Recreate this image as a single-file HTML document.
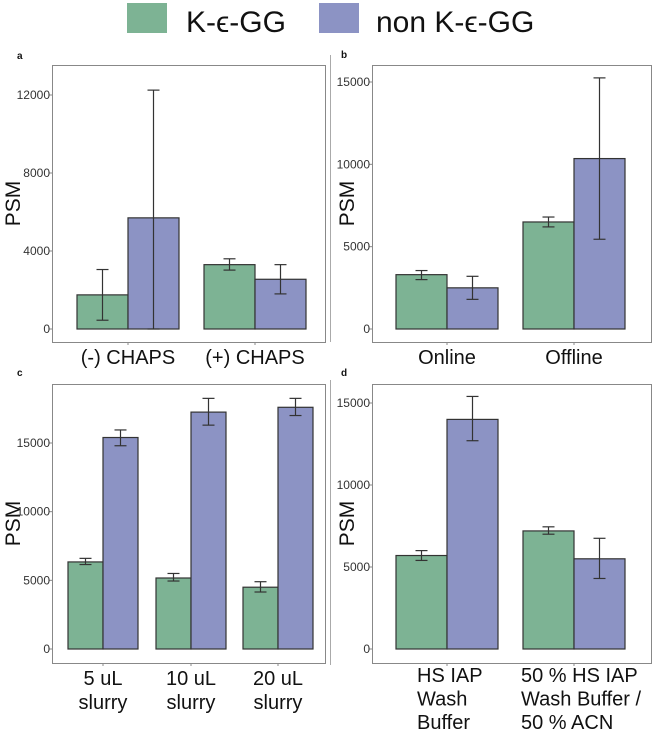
<!DOCTYPE html>
<html><head><meta charset="utf-8"><style>
body{margin:0;background:#fff;font-family:"Liberation Sans",sans-serif;}
svg{display:block}
</style></head><body>
<svg id="c" width="657" height="739">
<g>
<rect x="127" y="3" width="40" height="30" fill="#7db394"/>
<text x="186" y="32" font-size="30" fill="#111">K-ϵ-GG</text>
<rect x="319" y="3" width="40" height="30" fill="#8c93c4"/>
<text x="376" y="32" font-size="30" fill="#111">non K-ϵ-GG</text>
</g>
<line x1="330.5" y1="55" x2="330.5" y2="342" stroke="#aaa"/>
<line x1="330.5" y1="380" x2="330.5" y2="665" stroke="#aaa"/>
</svg>
<script>
const catsA=[["(-) CHAPS"],["(+) CHAPS"]];
const greenA=[1750,3300], greenLoA=[450,3020], greenHiA=[3050,3600];
const blueA=[5700,2550], blueLoA=[0,1800], blueHiA=[12250,3300];
const ticksA=[0,4000,8000,12000];

const catsB=[["Online"],["Offline"]];
const greenB=[3300,6500], greenLoB=[3000,6200], greenHiB=[3550,6800];
const blueB=[2500,10350], blueLoB=[1800,5450], blueHiB=[3200,15250];
const ticksB=[0,5000,10000,15000];

const catsC=[["5 uL","slurry"],["10 uL","slurry"],["20 uL","slurry"]];
const greenC=[6340,5170,4500], greenLoC=[6150,4950,4150], greenHiC=[6600,5500,4900];
const blueC=[15400,17250,17600], blueLoC=[14800,16300,17000], blueHiC=[15950,18250,18250];
const ticksC=[0,5000,10000,15000];

const catsD=[["HS IAP","Wash","Buffer"],["50 % HS IAP","Wash Buffer /","50 % ACN"]];
const greenD=[5700,7200], greenLoD=[5400,7000], greenHiD=[6000,7450];
const blueD=[14000,5500], blueLoD=[12700,4300], blueHiD=[15400,6750];
const ticksD=[0,5000,10000,15000];

const svg=document.getElementById('c');
const NS='http://www.w3.org/2000/svg';
function mk(tag,attrs,parent){const e=document.createElementNS(NS,tag);for(const k in attrs)e.setAttribute(k,attrs[k]);(parent||svg).appendChild(e);return e;}

function panel(p){
  const g=mk('g',{});
  
  
  const y=v=>p.y0-(v-0)*p.scale;
  const fr=mk('rect',{x:p.fx0+0.5,y:p.fy0+0.5,width:p.fx1-p.fx0,height:p.fy1-p.fy0,fill:'none',stroke:'#888'},g);
  
  
  const lt=mk('text',{x:p.lx,y:p.ly,'font-size':10,'font-weight':'bold',fill:'#111'},g);
  lt.textContent=p.letter;
  
  
  const yt=mk('text',{x:0,y:0,'font-size':21,fill:'#111','text-anchor':'middle',transform:`translate(${p.tx},${(p.fy0+p.fy1)/2}) rotate(-90)`},g);
  yt.textContent='PSM';
  
  
  p.ticks.forEach(t=>{
    const ty=y(t);
    const tm=mk('line',{x1:p.fx0-3,x2:p.fx0,y1:ty,y2:ty,stroke:'#888'},g);
    
    
    const tl=mk('text',{x:p.fx0-2,y:ty+4,'font-size':12,fill:'#333','text-anchor':'end'},g);
    tl.textContent=t;
    
    
  });
  p.cats.forEach((cat,i)=>{
    const gx=p.gx[i], bw=p.bw;
    [[p.green[i],p.gLo[i],p.gHi[i],gx-bw,'#7db394','green'],[p.blue[i],p.bLo[i],p.bHi[i],gx,'#8c93c4','blue']].forEach(s=>{
      const top=y(s[0]);
      const r=mk('rect',{x:s[3],y:top,width:bw,height:y(0)-top,fill:s[4],stroke:'#333','stroke-width':1.2},g);
      
      
      const cx=s[3]+bw/2;
      const eg=mk('g',{stroke:'#333','stroke-width':1.2},g);
      
      
      mk('line',{x1:cx,x2:cx,y1:y(s[1]),y2:y(s[2])},eg);
      mk('line',{x1:cx-6,x2:cx+6,y1:y(s[1]),y2:y(s[1])},eg);
      mk('line',{x1:cx-6,x2:cx+6,y1:y(s[2]),y2:y(s[2])},eg);
    });
    const xm=mk('line',{x1:gx,x2:gx,y1:p.fy1,y2:p.fy1+3,stroke:'#888'},g);
    
    
    const tx=mk('text',{x:gx,y:p.fy1+(p.ly0||22),'font-size':20,fill:'#111','text-anchor':p.anchor||'middle'},g);
    
    
    cat.forEach((ln,j)=>{const ts=mk('tspan',{x:p.anchor==='start'?gx-p.bw+p.off[i]:gx,dy:j?(p.lh||24):0},tx);ts.textContent=ln;});
  });
}
panel({letter:'a',lx:17,ly:59,tx:20,fx0:52,fx1:325,fy0:65,fy1:342,y0:329,scale:(329-95)/12000,ticks:ticksA,cats:catsA,green:greenA,gLo:greenLoA,gHi:greenHiA,blue:blueA,bLo:blueLoA,bHi:blueHiA,gx:[128,255],bw:51});
panel({letter:'b',lx:341,ly:58,tx:354,fx0:372,fx1:651,fy0:65,fy1:342,y0:329,scale:(329-82)/15000,ticks:ticksB,cats:catsB,green:greenB,gLo:greenLoB,gHi:greenHiB,blue:blueB,bLo:blueLoB,bHi:blueHiB,gx:[447,574],bw:51});
panel({letter:'c',lx:17,ly:376,tx:20,fx0:52,fx1:325,fy0:384,fy1:663,y0:649,scale:(649-443)/15000,ticks:ticksC,cats:catsC,green:greenC,gLo:greenLoC,gHi:greenHiC,blue:blueC,bLo:blueLoC,bHi:blueHiC,gx:[103,191,278],bw:35});
panel({letter:'d',lx:341,ly:376,tx:354,fx0:372,fx1:651,fy0:384,fy1:663,y0:649,scale:(649-403)/15000,ticks:ticksD,cats:catsD,green:greenD,gLo:greenLoD,gHi:greenHiD,blue:blueD,bLo:blueLoD,bHi:blueHiD,gx:[447,574],bw:51,anchor:'start',off:[21,-2],ly0:19,lh:23.5});
</script>
</body></html>
